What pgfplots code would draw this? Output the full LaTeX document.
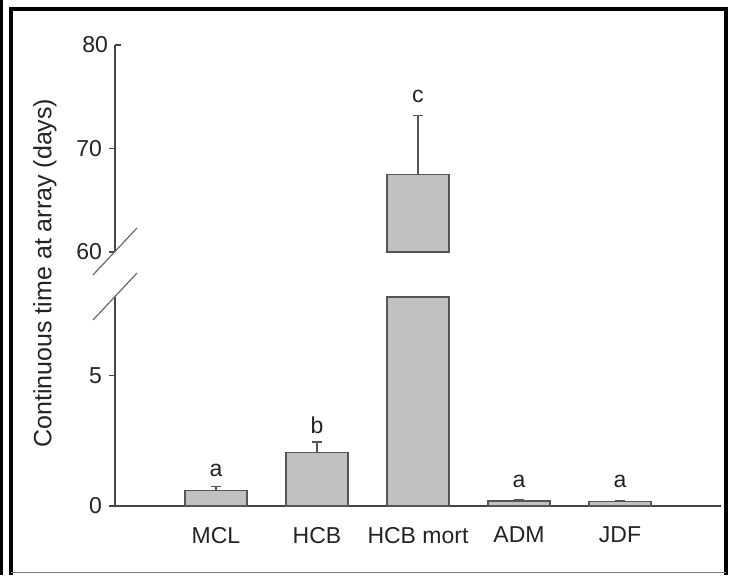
\documentclass[border=0pt]{standalone}
\usepackage{pgfplots}
\pgfplotsset{compat=1.18}
\usepackage{fontspec}
\setmainfont{Liberation Sans}

\definecolor{barfill}{RGB}{192,192,192}
\definecolor{baredge}{RGB}{85,85,85}
\definecolor{axisgray}{RGB}{70,70,70}
\definecolor{txt}{RGB}{35,35,35}
\definecolor{breakgray}{RGB}{105,105,105}

\pgfplotsset{
  segment/.style={
    scale only axis, width=303pt, xmin=0, xmax=6,
    axis y line=left,
    tick style={draw=axisgray, line width=0.7pt},
    tick align=outside, major tick length=3pt,
    ticklabel style={font=\fontsize{11.5}{13}\selectfont, text=txt},
    /pgf/number format/assume math mode=true,
  },
  plainlines/.style={
    axis line style={-, draw=axisgray, line width=0.7pt},
    every outer x axis line/.append style={-},
    every outer y axis line/.append style={-},
  },
  bars/.style={
    ybar, bar shift=0pt, bar width=31pt,
    fill=barfill, draw=baredge, line width=0.7pt,
  },
  errs/.style={
    error bars/.cd, y dir=plus, y explicit,
    error bar style={draw=baredge, line width=0.6pt},
    error mark options={draw=baredge, line width=0.6pt, mark size=2.5pt, rotate=90},
  },
}

\begin{document}
\begin{tikzpicture}[x=0.5pt, y=0.5pt]
  % page outline
  \path[use as bounding box] (0,0) rectangle (729,575);
  \fill[black] (0,0) rectangle (2.7,575);
  \draw[black, line width=2pt] (11.3,0) -- (11.3,566.5) -- (726,566.5) -- (726,0);
  \draw[gray, line width=0.6pt] (11.3,2.5) -- (726,2.5);

  % lower segment: 0 to 8 days
  \begin{axis}[segment, at={(57.5pt,34.5pt)}, anchor=south west,
      height=104.5pt, ymin=0, ymax=8, ytick={0,5},
      axis x line=bottom, plainlines,
      xtick={1,2,3,4,5},
      xticklabels={MCL, HCB, HCB mort, ADM, JDF},
      x tick style={draw=none},
      xticklabel style={yshift=-5.5pt},
      clip=false]
    \addplot[bars, errs] coordinates {
      (1,0.60) +- (0,0.14)
      (2,2.05) +- (0,0.40)
      (4,0.19) +- (0,0.07)
      (5,0.17) +- (0,0.04)
    };
    % HCB mort continues past the break
    \addplot[bars] coordinates {(3,8)};
    \node[font=\fontsize{11.5}{13}\selectfont, text=txt] at (axis cs:1,1.38) {a};
    \node[font=\fontsize{11.5}{13}\selectfont, text=txt] at (axis cs:2,3.10) {b};
    \node[font=\fontsize{11.5}{13}\selectfont, text=txt] at (axis cs:4,0.94) {a};
    \node[font=\fontsize{11.5}{13}\selectfont, text=txt] at (axis cs:5,0.94) {a};
  \end{axis}

  % upper segment: 60 to 80 days
  \begin{axis}[segment, at={(57.5pt,161.5pt)}, anchor=south west,
      height=103.5pt, ymin=0, ymax=20,
      ytick={0,10}, yticklabels={60,70},
      extra y ticks={20}, extra y tick labels={80},
      extra y tick style={tick align=inside},
      axis x line=none, plainlines,
      y filter/.expression={y-60}]
    \addplot[bars, errs] coordinates {(3,67.5) +- (0,5.7)};
    \node[font=\fontsize{11.5}{13}\selectfont, text=txt] at (axis description cs:0.5,0.754) {c};
  \end{axis}

  % axis break marks
  \draw[breakgray, line width=0.6pt] (93,300) -- (137,347);
  \draw[breakgray, line width=0.6pt] (93,255) -- (137,302);

  % y-axis title
  \node[rotate=90, font=\fontsize{12.5}{15}\selectfont, text=txt] at (45,302)
    {Continuous time at array (days)};
\end{tikzpicture}
\end{document}
